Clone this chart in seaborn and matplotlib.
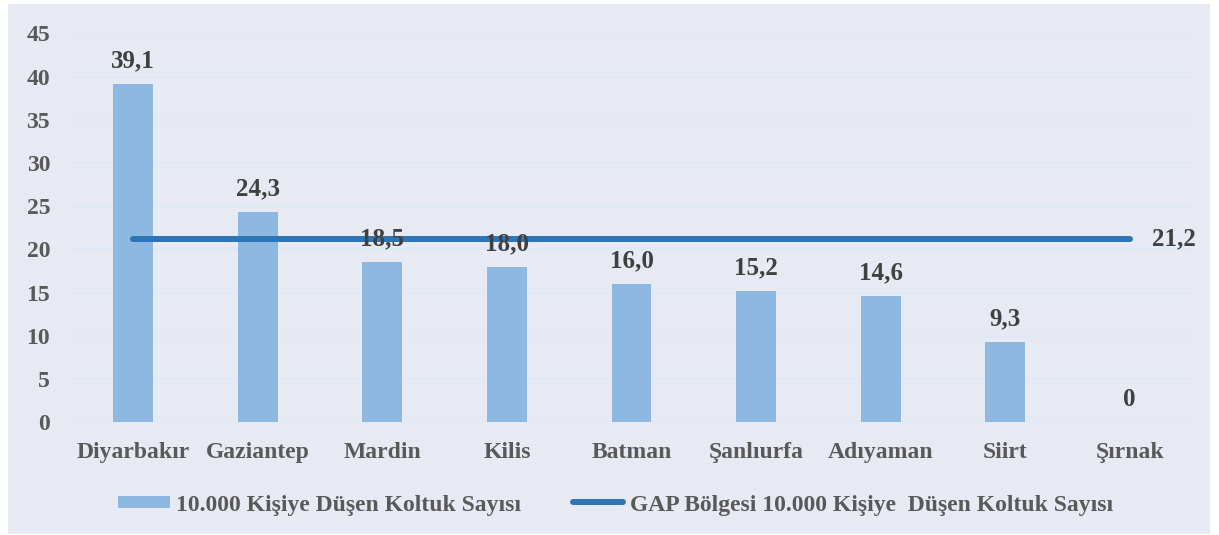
import matplotlib
matplotlib.use("Agg")
import matplotlib.pyplot as plt
import seaborn as sns
import pandas as pd
from matplotlib.patches import Rectangle
from matplotlib.lines import Line2D

# Data
provinces = ["Diyarbakır", "Gaziantep", "Mardin", "Kilis", "Batman",
             "Şanlıurfa", "Adıyaman", "Siirt", "Şırnak"]
seats_per_10k = [39.1, 24.3, 18.5, 18.0, 16.0, 15.2, 14.6, 9.3, 0.0]
gap_average = 21.2
y_ticks = [0, 5, 10, 15, 20, 25, 30, 35, 40, 45]

bar_label = "10.000 Kişiye Düşen Koltuk Sayısı"
line_label = "GAP Bölgesi 10.000 Kişiye  Düşen Koltuk Sayısı"

BG = "#e8eaf3"
GRID = "#dde9f6"
BAR = "#8cb8e1"
LINE = "#2e75b6"
TICK = "#595959"
LABEL = "#404040"
FS = 17       # axis and legend text
FS_VAL = 18   # value labels

sns.set_theme(style="white")
plt.rcParams["font.family"] = ["Liberation Serif", "DejaVu Serif"]
plt.rcParams["font.weight"] = "bold"

df = pd.DataFrame({"il": provinces, "deger": seats_per_10k})

W, H = 1219, 535
fig = plt.figure(figsize=(W / 100, H / 100), dpi=100, facecolor="white")
# chart panel background
fig.patches.append(Rectangle((8 / W, 1 / H), 1202 / W, 530 / H,
                             transform=fig.transFigure, facecolor=BG,
                             edgecolor="none", zorder=-10))

ax = fig.add_axes([71 / W, 1 - 422.3 / H, 1121 / W, 389 / H])
ax.set_zorder(2)
ax.set_facecolor("none")

sns.barplot(data=df, x="il", y="deger", color=BAR, width=0.32,
            saturation=1, linewidth=0, ax=ax, zorder=3)

xs = list(range(len(provinces)))
ax.plot(xs, [gap_average] * len(xs), color=LINE, lw=4.3,
        solid_capstyle="round", zorder=4)
ax.text(xs[-1] + 0.18, gap_average, f"{gap_average:.1f}".replace(".", ","),
        ha="left", va="center", fontsize=FS_VAL, fontweight="bold",
        color=LABEL)

for x, v in zip(xs, seats_per_10k):
    txt = "0" if v == 0 else f"{v:.1f}".replace(".", ",")
    ax.annotate(txt, (x, v), xytext=(0, 12), textcoords="offset points",
                ha="center", va="baseline", fontsize=FS_VAL,
                fontweight="bold", color=LABEL, zorder=5)

ax.set_ylim(0, 45)
ax.set_xlim(-0.5, len(provinces) - 0.5)
ax.set_yticks(y_ticks)
ax.yaxis.grid(True, color=GRID, lw=1.5, zorder=1)
ax.set_axisbelow(True)
for s in ax.spines.values():
    s.set_visible(False)
ax.set_xlabel("")
ax.set_ylabel("")
ax.tick_params(axis="y", length=0, pad=15, labelsize=FS, labelcolor=TICK)
ax.tick_params(axis="x", length=0, pad=14, labelsize=FS, labelcolor=TICK)
for lbl in ax.get_xticklabels() + ax.get_yticklabels():
    lbl.set_fontweight("bold")

# legend row
ly = 1 - 502 / H
fig.patches.append(Rectangle((118 / W, 1 - 508 / H), 52 / W, 12 / H,
                             transform=fig.transFigure, facecolor=BAR,
                             edgecolor="none", zorder=3))
fig.text(176 / W, 1 - 511 / H, bar_label, ha="left", va="baseline",
         fontsize=FS, fontweight="bold", color=TICK)
fig.add_artist(Line2D([573 / W, 623 / W], [ly, ly], color=LINE, lw=4.3,
                      solid_capstyle="round", transform=fig.transFigure))
fig.text(630 / W, 1 - 511 / H, line_label, ha="left", va="baseline",
         fontsize=FS, fontweight="bold", color=TICK)

fig.savefig("out.png", dpi=100, facecolor="white")
